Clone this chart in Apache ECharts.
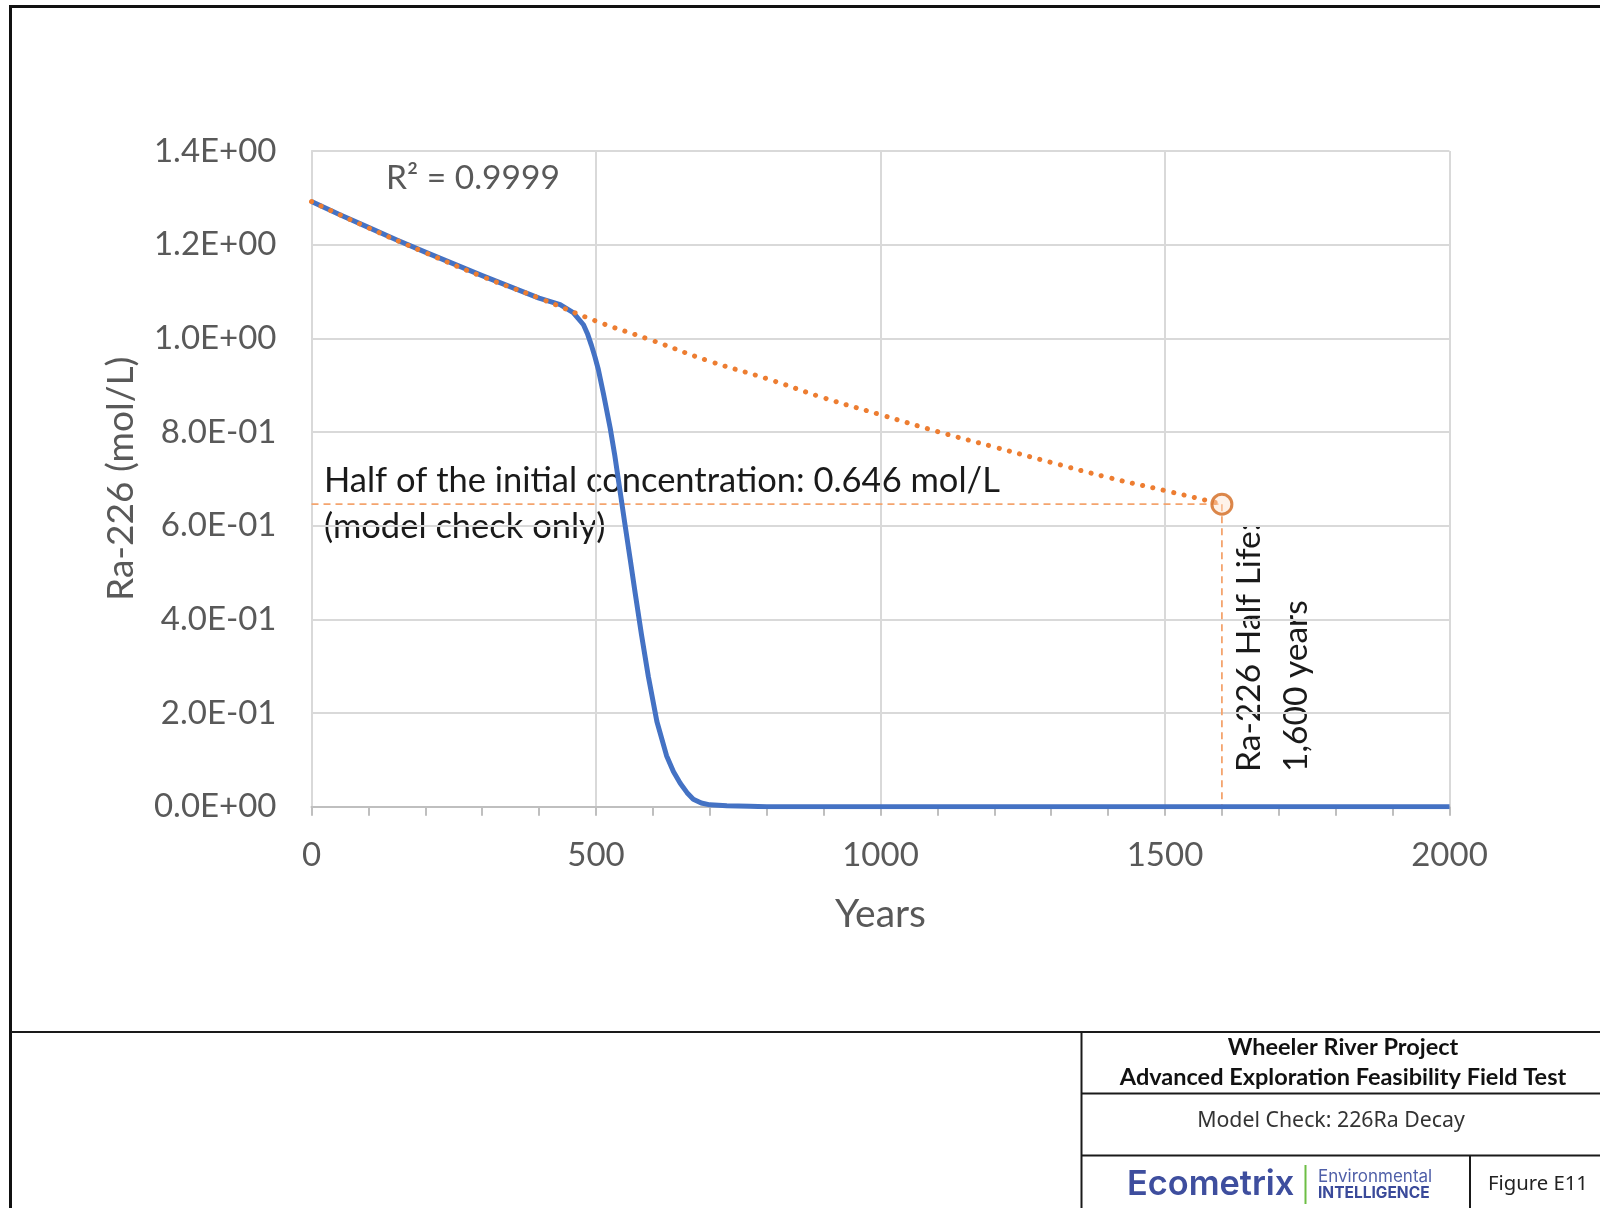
<!DOCTYPE html>
<html><head><meta charset="utf-8">
<script src="https://cdn.jsdelivr.net/npm/echarts@6/dist/echarts.min.js"></script>
<style>html,body{margin:0;padding:0;background:#fff}#c{width:1600px;height:1208px}</style>
</head><body><div id="c"></div>
<script>
// ---- data ----
const xTicks = [0, 500, 1000, 1500, 2000];
const yTickLabels = ['0.0E+00','2.0E-01','4.0E-01','6.0E-01','8.0E-01','1.0E+00','1.2E+00','1.4E+00'];
const modelYears  = [0, 50, 100, 150, 200, 250, 300, 350, 400, 437, 460, 478, 485, 492, 498, 504, 513, 525, 533, 542, 551, 560, 569, 580, 592, 607, 624, 636, 648, 660, 671, 685, 700, 730, 770, 800, 1000, 1500, 2000];
const modelValues = [1.292, 1.264, 1.237, 1.210, 1.184, 1.159, 1.134, 1.110, 1.086, 1.072, 1.055, 1.029, 1.010, 0.985, 0.961, 0.934, 0.882, 0.808, 0.750, 0.676, 0.602, 0.529, 0.455, 0.367, 0.278, 0.182, 0.109, 0.075, 0.050, 0.030, 0.016, 0.008, 0.004, 0.002, 0.001, 0, 0, 0, 0];
const trendYears  = [0, 100, 200, 300, 400, 500, 600, 700, 800, 900, 1000, 1100, 1200, 1300, 1400, 1500, 1600];
const trendValues = [1.292, 1.236, 1.183, 1.132, 1.086, 1.037, 0.995, 0.951, 0.914, 0.873, 0.837, 0.801, 0.768, 0.735, 0.703, 0.675, 0.646];
const halfLifeYear = 1600;
const halfConc = 0.646;
const rSquaredText = 'R\u00B2 = 0.9999';
const halfText = ['Half of the initial concentration: 0.646 mol/L', '(model check only)'];
const halfLifeText = ['Ra-226 Half Life:', '1,600 years'];
const titleLines = ['Wheeler River Project', 'Advanced Exploration Feasibility Field Test'];
const subTitle = 'Model Check: 226Ra Decay';
const figureLabel = 'Figure E11';

const zip = (a, b) => a.map((v, i) => [v, b[i]]);
const chart = echarts.init(document.getElementById('c'), null, {renderer: 'canvas'});

const F = 'Lato, "Open Sans", sans-serif';
const lineBlack = {stroke: '#1a1a1a', lineWidth: 2};

chart.setOption({
  animation: false,
  backgroundColor: '#ffffff',
  grid: {left: 311.5, right: 150.5, top: 151, bottom: 401.3, containLabel: false},
  xAxis: {
    type: 'value', min: 0, max: 2000, interval: 500,
    name: 'Years', nameLocation: 'middle', nameGap: 88,
    nameTextStyle: {fontFamily: F, fontSize: 39, color: '#595959'},
    axisLine: {show: true, lineStyle: {color: '#BFBFBF', width: 2}},
    axisTick: {show: true, length: 9, lineStyle: {color: '#BFBFBF', width: 2}},
    minorTick: {show: true, splitNumber: 5, length: 9, lineStyle: {color: '#BFBFBF', width: 2}},
    splitLine: {show: true, lineStyle: {color: '#D9D9D9', width: 2}},
    axisLabel: {margin: 32, fontFamily: F, fontSize: 33, color: '#595959',
      formatter: v => { const i = xTicks.indexOf(v); return i >= 0 ? String(xTicks[i]) : ''; }}
  },
  yAxis: {
    type: 'value', min: 0, max: 1.4, interval: 0.2,
    name: 'Ra-226 (mol/L)', nameLocation: 'middle', nameGap: 172, nameRotate: 90,
    nameTextStyle: {fontFamily: F, fontSize: 37, color: '#595959'},
    axisLine: {show: true, lineStyle: {color: '#D9D9D9', width: 2}},
    axisTick: {show: false},
    splitLine: {show: true, lineStyle: {color: '#D9D9D9', width: 2}},
    axisLabel: {margin: 35, fontFamily: F, fontSize: 33, color: '#595959',
      formatter: v => yTickLabels[Math.round(v / 0.2)] || ''}
  },
  series: [
    {type: 'line', name: 'model', data: zip(modelYears, modelValues), showSymbol: false,
     smooth: false, z: 3,
     lineStyle: {color: '#4472C4', width: 5, join: 'round'}},
    {type: 'line', name: 'trend', data: zip(trendYears, trendValues), showSymbol: false,
     smooth: true, z: 4,
     lineStyle: {color: '#ED7D31', width: 5, type: [0.1, 10.5], cap: 'round'}},
    {type: 'line', name: 'halfH', data: [[0, halfConc], [halfLifeYear, halfConc]], showSymbol: false, z: 2,
     lineStyle: {color: '#F4A46E', width: 1.8, type: [7, 5]}},
    {type: 'line', name: 'halfV', data: [[halfLifeYear, halfConc], [halfLifeYear, 0]], showSymbol: false, z: 2,
     lineStyle: {color: '#F4A46E', width: 1.8, type: [7, 5]}},
    {type: 'scatter', name: 'halfPoint', data: [[halfLifeYear, halfConc]], symbol: 'circle', symbolSize: 20, z: 5,
     itemStyle: {color: 'rgba(252,226,206,0.55)', borderColor: '#D2691E', borderWidth: 3}}
  ],
  graphic: [
    // outer frame
    {type: 'rect', shape: {x: 10.5, y: 6.5, width: 1620, height: 1230}, style: {fill: 'none', stroke: '#111', lineWidth: 3}, silent: true},
    // title block lines
    {type: 'line', shape: {x1: 11, y1: 1032, x2: 1600, y2: 1032}, style: lineBlack},
    {type: 'line', shape: {x1: 1081.5, y1: 1032, x2: 1081.5, y2: 1208}, style: lineBlack},
    {type: 'line', shape: {x1: 1081.5, y1: 1093.5, x2: 1600, y2: 1093.5}, style: lineBlack},
    {type: 'line', shape: {x1: 1081.5, y1: 1155.5, x2: 1600, y2: 1155.5}, style: lineBlack},
    {type: 'line', shape: {x1: 1470, y1: 1155.5, x2: 1470, y2: 1208}, style: lineBlack},
    // annotations
    {type: 'text', x: 386, y: 178, style: {text: rSquaredText, font: '33.5px ' + F, fill: '#595959', textAlign: 'left', textVerticalAlign: 'middle'}},
    {type: 'text', x: 324, y: 481, style: {text: halfText[0], font: '34.5px ' + F, fill: '#1a1a1a', textAlign: 'left', textVerticalAlign: 'middle'}},
    {type: 'text', x: 324, y: 527, style: {text: halfText[1], font: '34.5px ' + F, fill: '#1a1a1a', textAlign: 'left', textVerticalAlign: 'middle'}},
    {type: 'text', x: 1249, y: 772, rotation: Math.PI / 2, style: {text: halfLifeText[0], font: '33.5px ' + F, fill: '#1a1a1a', textAlign: 'left', textVerticalAlign: 'middle'}},
    {type: 'text', x: 1296, y: 772, rotation: Math.PI / 2, style: {text: halfLifeText[1], font: '33.5px ' + F, fill: '#1a1a1a', textAlign: 'left', textVerticalAlign: 'middle'}},
    // title block text
    {type: 'text', x: 1343, y: 1047, style: {text: titleLines[0], font: 'bold 23.5px ' + F, fill: '#111', textAlign: 'center', textVerticalAlign: 'middle'}},
    {type: 'text', x: 1343, y: 1077, style: {text: titleLines[1], font: 'bold 23.5px ' + F, fill: '#111', textAlign: 'center', textVerticalAlign: 'middle'}},
    {type: 'text', x: 1331, y: 1121, style: {text: subTitle, font: '21.3px "Noto Sans", sans-serif', fill: '#333', textAlign: 'center', textVerticalAlign: 'middle'}},
    {type: 'text', x: 1538, y: 1184, style: {text: figureLabel, font: '20.3px "Noto Sans", sans-serif', fill: '#222', textAlign: 'center', textVerticalAlign: 'middle'}},
    // logo
    {type: 'text', x: 1127, y: 1185, style: {text: 'Ecometrix', font: '600 34.3px Inter, sans-serif', fill: '#3E4E9E', textAlign: 'left', textVerticalAlign: 'middle'}},
    {type: 'line', shape: {x1: 1305.5, y1: 1165, x2: 1305.5, y2: 1204}, style: {stroke: '#6DBE45', lineWidth: 2}},
    {type: 'text', x: 1318, y: 1177, style: {text: 'Environmental', font: '17px Inter, sans-serif', fill: '#4F5FA8', textAlign: 'left', textVerticalAlign: 'middle'}},
    {type: 'text', x: 1318, y: 1193, style: {text: 'INTELLIGENCE', font: 'bold 15.5px Inter, sans-serif', fill: '#3A4A9A', textAlign: 'left', textVerticalAlign: 'middle'}}
  ]
});
</script>
</body></html>
